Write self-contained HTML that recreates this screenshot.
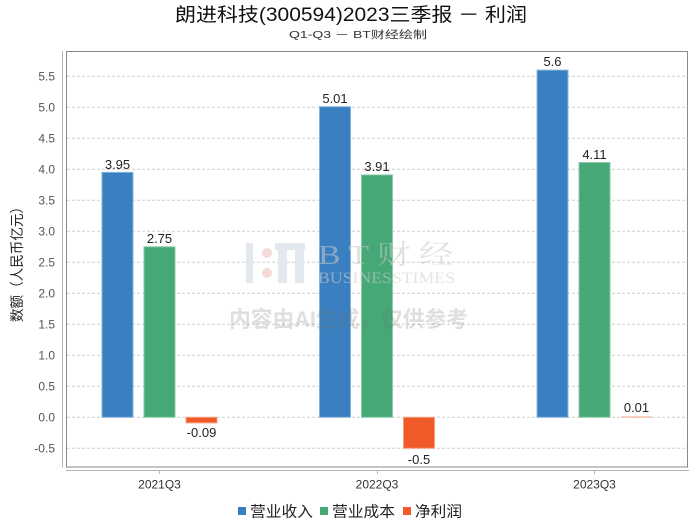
<!DOCTYPE html>
<html>
<head>
<meta charset="utf-8">
<style>
  html, body { margin:0; padding:0; background:#ffffff; }
  svg { display:block; }
  text { font-family: "Liberation Sans", "Noto Sans CJK SC", sans-serif; }
</style>
</head>
<body>
<svg width="700" height="524" viewBox="0 0 700 524" xmlns="http://www.w3.org/2000/svg">
  <rect x="0" y="0" width="700" height="524" fill="#ffffff"/>

  <!-- Title -->
  <text x="351" y="21" font-size="19" fill="#111" text-anchor="middle" textLength="352" lengthAdjust="spacingAndGlyphs">朗进科技(300594)2023三季报 － 利润</text>
  <text x="358" y="38" font-size="10.5" fill="#333" text-anchor="middle" textLength="138" lengthAdjust="spacingAndGlyphs">Q1-Q3 － BT财经绘制</text>

  <!-- gridlines -->
  <g stroke="#cfcfcf" stroke-width="1" stroke-dasharray="3,2">
    <line x1="67" x2="687" y1="448.3" y2="448.3"/>
    <line x1="67" x2="687" y1="386.3" y2="386.3"/>
    <line x1="67" x2="687" y1="355.3" y2="355.3"/>
    <line x1="67" x2="687" y1="324.3" y2="324.3"/>
    <line x1="67" x2="687" y1="293.3" y2="293.3"/>
    <line x1="67" x2="687" y1="262.3" y2="262.3"/>
    <line x1="67" x2="687" y1="231.3" y2="231.3"/>
    <line x1="67" x2="687" y1="200.3" y2="200.3"/>
    <line x1="67" x2="687" y1="169.3" y2="169.3"/>
    <line x1="67" x2="687" y1="138.3" y2="138.3"/>
    <line x1="67" x2="687" y1="107.3" y2="107.3"/>
    <line x1="67" x2="687" y1="76.3" y2="76.3"/>
    <line x1="67" x2="687" y1="417.3" y2="417.3"/>
  </g>

  <!-- bars -->
  <g stroke-width="1">
    <!-- 2021Q3 -->
    <rect x="102" y="172.4" width="31" height="244.9" fill="#3a80c0" stroke="#86b4de"/>
    <rect x="144" y="246.8" width="31" height="170.5" fill="#46a876" stroke="#8ccbaa"/>
    <rect x="186" y="417.3" width="31" height="5.6" fill="#f05a28" stroke="#f6a07f"/>
    <!-- 2022Q3 -->
    <rect x="319.5" y="106.7" width="31" height="310.6" fill="#3a80c0" stroke="#86b4de"/>
    <rect x="361.5" y="174.9" width="31" height="242.4" fill="#46a876" stroke="#8ccbaa"/>
    <rect x="403.5" y="417.3" width="31" height="31" fill="#f05a28" stroke="#f6a07f"/>
    <!-- 2023Q3 -->
    <rect x="537" y="70.1" width="31" height="347.2" fill="#3a80c0" stroke="#86b4de"/>
    <rect x="579" y="162.5" width="31" height="254.8" fill="#46a876" stroke="#8ccbaa"/>
    <rect x="621" y="416.5" width="31" height="1" fill="#f6a07f" stroke="none"/>
  </g>

  <!-- watermark (overlay) -->
  <g>
    <rect x="246" y="243" width="7" height="40" fill="#e3e8ef"/>
    <circle cx="267" cy="253" r="5" fill="#f6d9d9"/>
    <circle cx="267" cy="273" r="5" fill="#f6d9d9"/>
    <rect x="275" y="243" width="30" height="7" fill="#e3e8ef"/>
    <rect x="278" y="250" width="9" height="33" fill="#e3e8ef"/>
    <rect x="295" y="250" width="9" height="33" fill="#e3e8ef"/>
    <text x="318" y="264" font-size="27" fill="rgba(200,200,200,0.55)" textLength="135" lengthAdjust="spacingAndGlyphs" style="font-family:'Liberation Serif','Noto Serif CJK SC',serif">B T 财 经</text>
    <text x="318" y="283" font-size="16" fill="rgba(205,205,205,0.55)" textLength="137" lengthAdjust="spacingAndGlyphs" style="font-family:'Liberation Serif',serif">BUSINESSTIMES</text>
  </g>
  <text x="229" y="327" font-size="22" font-weight="bold" fill="rgba(110,110,110,0.22)" textLength="239" lengthAdjust="spacingAndGlyphs">内容由AI生成，仅供参考</text>

  <!-- data labels -->
  <g font-size="13" fill="#222" text-anchor="middle">
    <text x="117.5" y="169">3.95</text>
    <text x="159.5" y="243">2.75</text>
    <text x="201.5" y="437">-0.09</text>
    <text x="335" y="103">5.01</text>
    <text x="377" y="171">3.91</text>
    <text x="419" y="464">-0.5</text>
    <text x="552.5" y="66">5.6</text>
    <text x="594.5" y="159">4.11</text>
    <text x="636.5" y="412">0.01</text>
  </g>

  <!-- plot frame -->
  <rect x="66.5" y="51.5" width="621" height="415.5" fill="none" stroke="#8a8a8a" stroke-width="1"/>
  <!-- separate axes -->
  <line x1="62.5" y1="51" x2="62.5" y2="467.5" stroke="#b5b5b5" stroke-width="1"/>
  <line x1="66" y1="470.5" x2="689" y2="470.5" stroke="#b5b5b5" stroke-width="1"/>
  <g stroke="#b5b5b5" stroke-width="1">
    <line x1="159.5" y1="470" x2="159.5" y2="474"/>
    <line x1="377.5" y1="470" x2="377.5" y2="474"/>
    <line x1="594.5" y1="470" x2="594.5" y2="474"/>
  </g>

  <!-- y tick labels -->
  <g font-size="12" fill="#555" text-anchor="end">
    <text x="55" y="452.5">-0.5</text>
    <text x="55" y="421.5">0.0</text>
    <text x="55" y="390.5">0.5</text>
    <text x="55" y="359.5">1.0</text>
    <text x="55" y="328.5">1.5</text>
    <text x="55" y="297.5">2.0</text>
    <text x="55" y="266.5">2.5</text>
    <text x="55" y="235.5">3.0</text>
    <text x="55" y="204.5">3.5</text>
    <text x="55" y="173.5">4.0</text>
    <text x="55" y="142.5">4.5</text>
    <text x="55" y="111.5">5.0</text>
    <text x="55" y="80.5">5.5</text>
  </g>

  <!-- x labels -->
  <g font-size="12" fill="#333" text-anchor="middle">
    <text x="159.5" y="488.5">2021Q3</text>
    <text x="377" y="488.5">2022Q3</text>
    <text x="594.5" y="488.5">2023Q3</text>
  </g>

  <!-- y axis title -->
  <text transform="translate(22,261) rotate(-90)" font-size="14" fill="#222" text-anchor="middle" textLength="122" lengthAdjust="spacingAndGlyphs">数额（人民币亿元）</text>

  <!-- legend -->
  <rect x="238" y="507" width="8" height="8" fill="#3a80c0"/>
  <text x="250" y="516.5" font-size="15" fill="#222" textLength="63" lengthAdjust="spacingAndGlyphs">营业收入</text>
  <rect x="320" y="507" width="8" height="8" fill="#46a876"/>
  <text x="332" y="516.5" font-size="15" fill="#222" textLength="63" lengthAdjust="spacingAndGlyphs">营业成本</text>
  <rect x="403" y="507" width="8" height="8" fill="#f05a28"/>
  <text x="415" y="516.5" font-size="15" fill="#222" textLength="47" lengthAdjust="spacingAndGlyphs">净利润</text>
</svg>
</body>
</html>
